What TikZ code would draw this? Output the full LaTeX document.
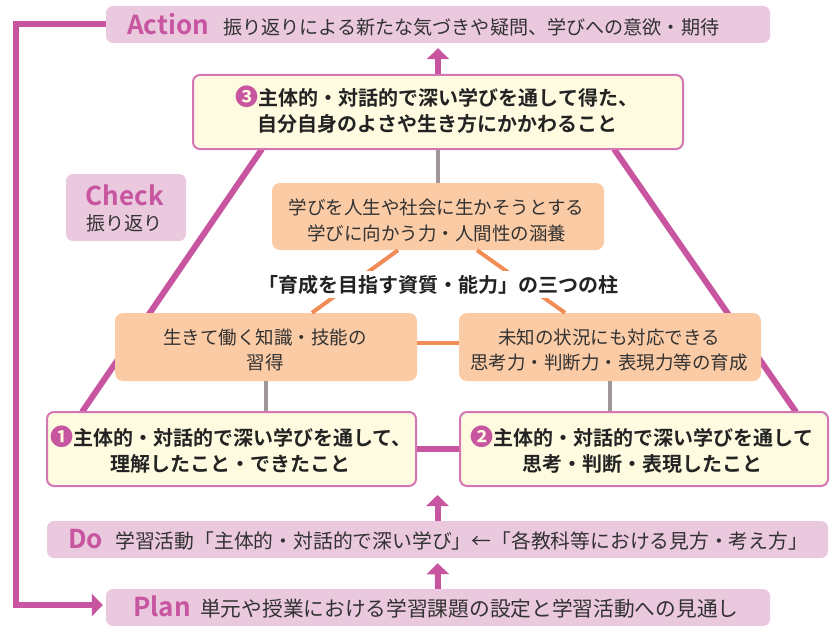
\documentclass[tikz,border=0pt]{standalone}
\usepackage{fontspec}
\setmainfont{Noto Sans CJK JP}[BoldFont={Noto Sans CJK JP Bold}]
\usetikzlibrary{arrows.meta}
\definecolor{pk}{RGB}{200,85,160}
\definecolor{barpink}{RGB}{234,200,222}
\definecolor{yfill}{RGB}{254,251,224}
\definecolor{ybord}{RGB}{212,118,180}
\definecolor{ofill}{RGB}{251,203,166}
\definecolor{oline}{RGB}{240,140,85}
\definecolor{gline}{RGB}{160,152,152}
\definecolor{tx}{RGB}{50,50,50}
\definecolor{btx}{RGB}{35,35,35}
\newcommand{\fs}[1]{\fontsize{#1}{#1}\selectfont}
\newcommand{\cnum}[1]{{\fs{23}\color{pk}#1}}
\tikzset{
  bar/.style={fill=barpink, rounded corners=7pt, minimum height=37pt, inner sep=0pt},
  ybox/.style={fill=yfill, draw=ybord, line width=2pt, rounded corners=7pt, inner sep=0pt, minimum height=74pt},
  obox/.style={fill=ofill, rounded corners=8pt, inner sep=0pt, minimum height=68pt, minimum width=302pt},
  pdca/.style={font=\bfseries\fs{26}, text=pk, inner sep=0pt, anchor=base west},
  bartxt/.style={font=\fs{19.5}, text=tx, inner sep=0pt, anchor=base west},
  bt/.style={font=\bfseries\fs{20}, text=btx, inner sep=0pt, anchor=base},
  ot/.style={font=\fs{18.5}, text=tx, inner sep=0pt, anchor=base},
  pline/.style={draw=pk, line width=6pt},
  parr/.style={draw=pk, line width=6pt, -{Triangle[length=11pt,width=22pt]}},
  gl/.style={draw=gline, line width=4pt},
  ol/.style={draw=oline, line width=4pt},
}
\begin{document}
\begin{tikzpicture}[x=1pt,y=-1pt]
\useasboundingbox (0,0) rectangle (830,626);
% coordinates
\coordinate (tl1) at (262,149);
\coordinate (tl2) at (82,412);
\coordinate (tr1) at (614,149);
\coordinate (tr2) at (796,412);
\coordinate (lp) at (16,605);
% boxes (positions)
\node[bar, minimum width=664pt] (action) at (438,24.5) {};
\node[bar, minimum width=781pt] (do) at (437.5,539.5) {};
\node[bar, minimum width=664pt] (plan) at (438,607.5) {};
\node[bar, minimum width=120pt, minimum height=67pt] (check) at (126,207.5) {};
% pink triangle lines and loop (behind boxes)
\draw[pline] (tl1) -- (tl2);
\draw[pline] (tr1) -- (tr2);
\draw[parr, shorten >=3pt, line join=miter] (action.west) -| (lp) -- (lp -| plan.west);
% main boxes
\node[ybox, minimum width=490pt] (box3) at (438,112) {};
\node[obox, minimum width=332pt, minimum height=67pt] (top) at (438,216.5) {};
\node[obox] (left) at (266,347) {};
\node[obox] (right) at (610,347) {};
\node[ybox, minimum width=369pt] (box1) at (231.5,449) {};
\node[ybox, minimum width=368pt] (box2) at (644,449) {};
% connectors
\draw[gl] (box3.south) -- (top.north);
\draw[gl] (left.south) -- (left.south |- box1.north);
\draw[gl] (right.south) -- (right.south |- box2.north);
\draw[ol] ([xshift=-40pt]top.south) -- ([xshift=46pt]left.north);
\draw[ol] ([xshift=39pt]top.south) -- ([xshift=-45pt]right.north);
\draw[ol] ([yshift=4pt]left.east) -- ([yshift=4pt]right.west);
\draw[pline] (box1.east) -- (box2.west);
\draw[parr, shorten >=5pt] (box3.north) -- (action.south);
\draw[parr, shorten >=8pt] (do.north) -- (do.north |- box2.south);
\draw[parr, shorten >=5pt] (plan.north) -- (do.south);
% texts
\node[pdca] (actl) at (127,35) {Action};
\node[bartxt, font=\fs{19.1}] (actt) at (223,34.5) {振り返りによる新たな気づきや疑問、学びへの意欲・期待};
\node[pdca, anchor=base] (chkl) at (125,205) {Check};
\node[font=\fs{19}, text=tx, inner sep=0pt, anchor=base] (chkt) at (124,230) {振り返り};
\node[pdca] (dol) at (68,548) {Do};
\node[bartxt, font=\fs{19.8}] (dot) at (115,548) {学習活動「主体的・対話的で深い学び」←「各教科等における見方・考え方」};
\node[pdca] (pll) at (133,616) {Plan};
\node[bartxt, font=\fs{20.7}] (plt) at (200,616) {単元や授業における学習課題の設定と学習活動への見通し};
\node[bt] (b3a) at (437,106) {\cnum{❸}主体的・対話的で深い学びを通して得た、};
\node[bt] (b3b) at (437,131) {自分自身のよさや生き方にかかわること};
\node[ot] (tpa) at (436.5,214) {学びを人生や社会に生かそうとする};
\node[ot] (tpb) at (436.5,240) {学びに向かう力・人間性の涵養};
\node[ot] (lfa) at (265,344) {生きて働く知識・技能の};
\node[ot] (lfb) at (265,369) {習得};
\node[ot] (rta) at (609,344) {未知の状況にも対応できる};
\node[ot] (rtb) at (609,369) {思考力・判断力・表現力等の育成};
\node[bt, fill=white, inner xsep=4pt, inner ysep=4pt] (pillar) at (438,292) {「育成を目指す資質・能力」の三つの柱};
\node[bt] (b1a) at (231,445) {\cnum{❶}主体的・対話的で深い学びを通して、};
\node[bt] (b1b) at (230,471) {理解したこと・できたこと};
\node[bt] (b2a) at (642,445) {\cnum{❷}主体的・対話的で深い学びを通して};
\node[bt] (b2b) at (642.5,471) {思考・判断・表現したこと};
\end{tikzpicture}
\end{document}
